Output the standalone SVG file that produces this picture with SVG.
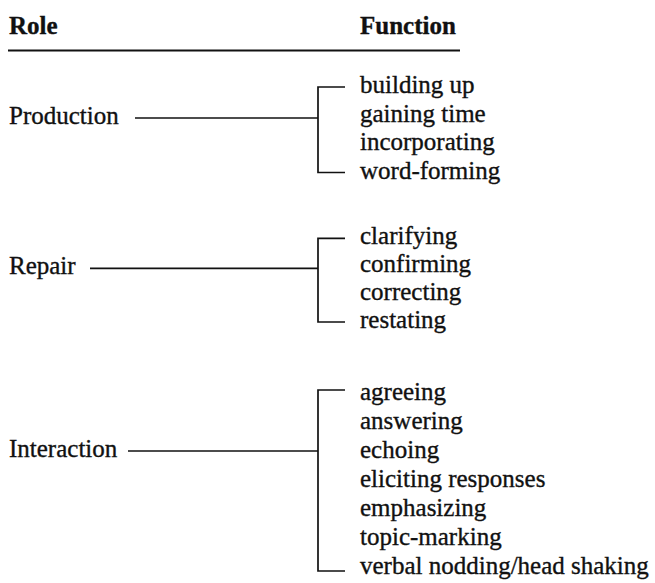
<svg xmlns="http://www.w3.org/2000/svg" width="655" height="583" viewBox="0 0 655 583">
<style>
text{font-family:"Liberation Serif","Times New Roman",serif;font-size:25px;fill:#111;stroke:#111;stroke-width:0.35}
.h{font-weight:bold}
.c line{stroke:#111;stroke-width:1.7;fill:none}
.c path{stroke:#111;stroke-width:1.7;fill:none}
</style>
<rect width="655" height="583" fill="#fff"/>
<g id="header">
<text class="h" x="9" y="34">Role</text>
<text class="h" x="360" y="34">Function</text>
<line x1="8" y1="50.5" x2="460" y2="50.5" stroke="#111" stroke-width="2"/>
</g>
<g id="production">
<text x="9" y="123.5">Production</text>
<text x="360" y="93">building up</text>
<text x="360" y="121.5">gaining time</text>
<text x="360" y="150">incorporating</text>
<text x="360" y="178.5">word-forming</text>
</g>
<g id="repair">
<text x="9" y="274">Repair</text>
<text x="360" y="244">clarifying</text>
<text x="360" y="272">confirming</text>
<text x="360" y="300">correcting</text>
<text x="360" y="328">restating</text>
</g>
<g id="interaction">
<text x="9" y="457">Interaction</text>
<text x="360" y="400">agreeing</text>
<text x="360" y="429">answering</text>
<text x="360" y="458">echoing</text>
<text x="360" y="487">eliciting responses</text>
<text x="360" y="516">emphasizing</text>
<text x="360" y="545">topic-marking</text>
<text x="360" y="574">verbal nodding/head shaking</text>
</g>
<g id="connectors" class="c">
<line x1="135" y1="118" x2="318" y2="118"/>
<path d="M345 87H318V172.5H345"/>
<line x1="90" y1="268.3" x2="318" y2="268.3"/>
<path d="M345 238.3H318V322H345"/>
<line x1="128" y1="451" x2="318" y2="451"/>
<path d="M345 390H318V571H345"/>
</g>
</svg>
